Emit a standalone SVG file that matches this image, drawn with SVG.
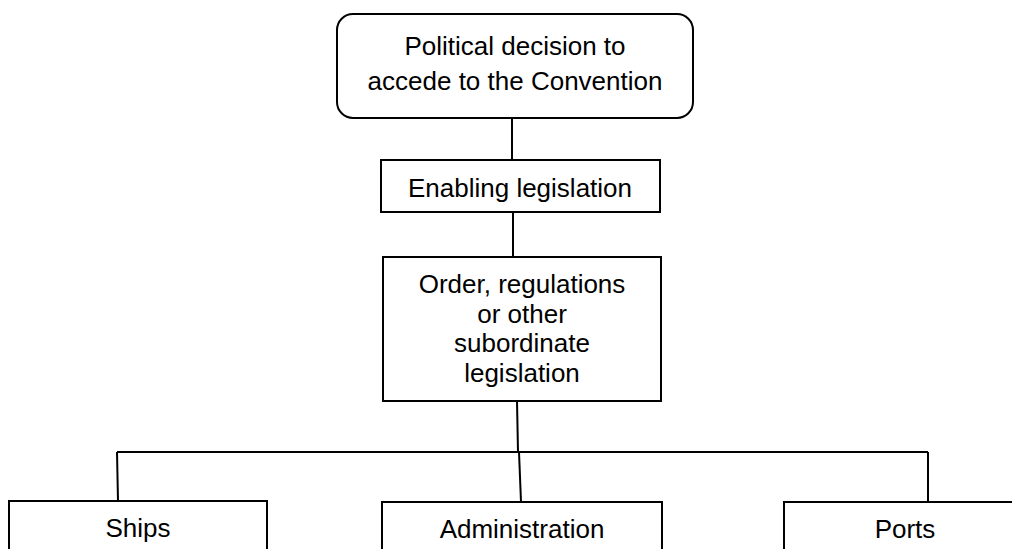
<svg xmlns="http://www.w3.org/2000/svg" width="1012" height="549" viewBox="0 0 1012 549">
<style>
.box{fill:#fff;stroke:#000;stroke-width:2}
.t{font-family:"Liberation Sans",Arial,sans-serif;font-size:26px;fill:#000;text-anchor:middle}
.c{stroke:#000;stroke-width:2;fill:none}
</style>
<rect width="1012" height="549" fill="#fff"/>
<g id="connectors">
<line class="c" x1="512" y1="118" x2="512" y2="160"/>
<line class="c" x1="513" y1="212" x2="513" y2="257"/>
<line class="c" x1="517" y1="401" x2="518" y2="452"/>
<line class="c" x1="117" y1="452" x2="928" y2="452"/>
<line class="c" x1="117" y1="452" x2="118" y2="501"/>
<line class="c" x1="519" y1="452" x2="521" y2="502"/>
<line class="c" x1="928" y1="452" x2="928" y2="502"/>
</g>
<g id="political">
<rect class="box" x="337" y="14" width="356" height="104" rx="16"/>
<text class="t" x="515" y="55">Political decision to</text>
<text class="t" x="515" y="90">accede to the Convention</text>
</g>
<g id="enabling">
<rect class="box" x="381" y="160" width="279" height="52"/>
<text class="t" x="520" y="197">Enabling legislation</text>
</g>
<g id="order">
<rect class="box" x="383" y="257" width="278" height="144"/>
<text class="t" x="522" y="293">Order, regulations</text>
<text class="t" x="522" y="323">or other</text>
<text class="t" x="522" y="352">subordinate</text>
<text class="t" x="522" y="382">legislation</text>
</g>
<g id="ships">
<rect class="box" x="9" y="501" width="258" height="60"/>
<text class="t" x="138" y="537">Ships</text>
</g>
<g id="administration">
<rect class="box" x="382" y="502" width="280" height="60"/>
<text class="t" x="522" y="538">Administration</text>
</g>
<g id="ports">
<rect class="box" x="784" y="502" width="244" height="60"/>
<text class="t" x="905" y="538">Ports</text>
</g>
</svg>
